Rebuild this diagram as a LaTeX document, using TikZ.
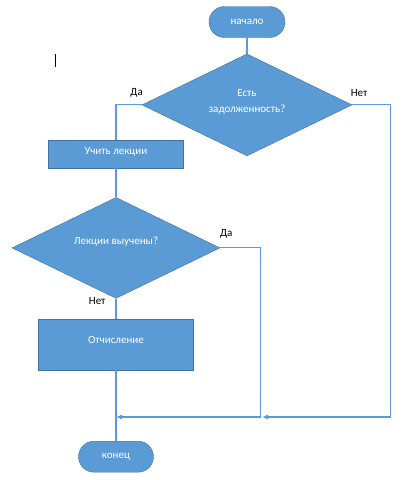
\documentclass[tikz,border=0pt]{standalone}
\usepackage{fontspec}
\setmainfont{Carlito}
\usetikzlibrary{shapes,arrows,arrows.meta}
\usetikzlibrary{positioning}
\definecolor{blockblue}{HTML}{5B9BD5}
\definecolor{blockedge}{HTML}{41719C}
\tikzstyle{term} = [draw=blockedge, fill=blockblue, rounded corners=15.5pt,
minimum width=76pt, minimum height=31pt, text=white]
\tikzstyle{block} = [draw=blockedge, fill=blockblue, rectangle, text=white,
text height=8pt]
\tikzstyle{decision} = [draw=blockedge, fill=blockblue, diamond, shape aspect=2,
align=center, inner sep=0pt, text=white]
\tikzstyle{line} = [draw=blockblue, line width=1.1pt]
\begin{document}
\begin{tikzpicture}[x=1pt, y=1pt,
	lbl/.style={text=black, inner sep=1pt},
	tip/.style={-{Latex[length=6pt,width=5pt]}},
	font=\fontsize{11}{16}\selectfont]
	\useasboundingbox (0,0) rectangle (415,-480);
	\node [term] (start) at (247,-22) {начало};
	\node [decision, below=16pt of start, minimum width=210pt, minimum height=102pt,
		text depth=8.5pt] (debt) {Есть\\задолженность?};
	\node [block, minimum width=135pt, minimum height=28pt, text depth=6.5pt] (learn) at (116,-154) {Учить лекции};
	\node [decision, below=29pt of learn, minimum width=208pt, minimum height=101pt,
		text height=8pt, text depth=14.5pt] (known) {Лекции выучены?};
	\node [block, below=20pt of known, minimum width=155pt, minimum height=51pt, text depth=9.5pt] (expel) {Отчисление};
	\node [term, below=71pt of expel, minimum width=75pt] (finish) {конец};
	\coordinate (joinA) at (116,-417);
	\coordinate (joinB) at (262,-417);
	\draw [line width=0.8pt] (55,-54) -- (55,-67);
	%% Arrows
	\path [line] (start) -- (debt);
	\path [line] (debt.west) -| node [lbl, pos=0.1, yshift=12pt] (yesDebt) {Да} (learn.north);
	\path [line, tip] (debt.east) -- node [lbl, pos=0.18, yshift=12pt] (noDebt) {Нет} ++(38,0) |- (joinB);
	\path [line] (learn) -- (known);
	\path [line, tip] (known.east) -- node [lbl, pos=0.15, yshift=14.5pt] (yesKnown) {Да} ++(40,0) |- (joinA);
	\path [line] (known) -- node [lbl, pos=0.1, left, xshift=-9pt] (noKnown) {Нет} (expel);
	\path [line] (expel) -- (finish);
\end{tikzpicture}
\end{document}
